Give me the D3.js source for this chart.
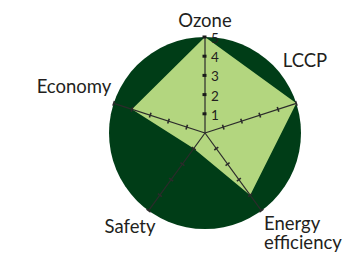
<!DOCTYPE html>
<html>
<head>
<meta charset="utf-8">
<script src="https://cdn.jsdelivr.net/npm/d3@7"></script>
<style>
  body { margin: 0; background: #fff; }
  text { font-family: "Lato", "Noto Sans", sans-serif; fill: #231f20; }
</style>
</head>
<body>
<svg class="radar" width="358" height="256"></svg>
<script>
var axes = ['Ozone', 'LCCP', 'Energy efficiency', 'Safety', 'Economy'];
var values = [5, 5, 4, 1, 4];
var ticks = [1, 2, 3, 4, 5];

var svg = d3.select("svg.radar");
var cx = 205, cy = 133;
var r = d3.scaleLinear().domain([0, 5]).range([0, 96]);
var angle = d3.scaleLinear().domain([0, axes.length]).range([0, 2 * Math.PI]);

function pt(i, v) {
    var a = angle(i);
    return [cx + r(v) * Math.sin(a), cy - r(v) * Math.cos(a)];
}

svg.append("circle")
    .attr("cx", cx).attr("cy", cy).attr("r", r(5))
    .attr("fill", "#003d17");

svg.append("polygon")
    .attr("points", values.map(function (v, i) { return pt(i, v).join(","); }).join(" "))
    .attr("fill", "#b3d67f");

var ax = svg.append("g").selectAll("g")
    .data(axes)
    .enter().append("g");

ax.append("line")
    .attr("x1", cx).attr("y1", cy)
    .attr("x2", function (d, i) { return pt(i, 5)[0]; })
    .attr("y2", function (d, i) { return pt(i, 5)[1]; })
    .attr("stroke", "#2b2b2b")
    .attr("stroke-width", 1.2);

// tick marks on the four outer axes
ax.filter(function (d, i) { return i > 0; })
    .each(function (d, i) {
        var idx = i + 1;
        var a = angle(idx);
        d3.select(this).selectAll("line.tick")
            .data(ticks)
            .enter().append("line")
            .attr("class", "tick")
            .attr("transform", function (t) {
                var p = pt(idx, t);
                return "translate(" + p[0] + "," + p[1] + ") rotate(" + (a * 180 / Math.PI) + ")";
            })
            .attr("x1", -2.5).attr("x2", 2.5)
            .attr("y1", 0).attr("y2", 0)
            .attr("stroke", "#2b2b2b")
            .attr("stroke-width", 1.6);
    });

// ozone axis: square ticks with labels
var oz = svg.append("g").selectAll("g")
    .data(ticks)
    .enter().append("g")
    .attr("transform", function (t) { return "translate(" + cx + "," + pt(0, t)[1] + ")"; });

oz.append("rect")
    .attr("x", -2.5).attr("y", -1.5)
    .attr("width", 4).attr("height", 3)
    .attr("fill", "#1a1a1a");

oz.append("text")
    .attr("x", 6)
    .attr("dy", "0.45em")
    .attr("font-size", 13.5)
    .text(function (t) { return t; });

// category labels (energy efficiency is split over two lines)
var labelPos = [
    { x: 205, y: 27, anchor: "middle" },
    { x: 305, y: 67, anchor: "middle" },
    { x: 264, y: 230, anchor: "start" },
    { x: 130, y: 233, anchor: "middle" },
    { x: 74, y: 93, anchor: "middle" }
];

var lines = [];
axes.forEach(function (d, i) {
    var words = d === 'Energy efficiency' ? ['Energy', 'efficiency'] : [d];
    words.forEach(function (w, j) {
        lines.push({ text: w, x: labelPos[i].x, y: labelPos[i].y + j * 19, anchor: labelPos[i].anchor });
    });
});

svg.append("g").selectAll("text")
    .data(lines)
    .enter().append("text")
    .attr("x", function (d) { return d.x; })
    .attr("y", function (d) { return d.y; })
    .attr("text-anchor", function (d) { return d.anchor; })
    .attr("font-size", 18.5)
    .text(function (d) { return d.text; });
</script>
</body>
</html>
